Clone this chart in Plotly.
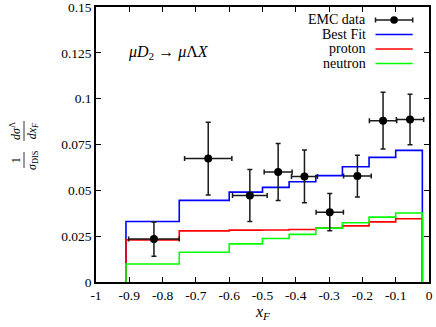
import plotly.graph_objects as go

# ---- data ----
bin_edges = [-0.91, -0.75, -0.60, -0.50, -0.42, -0.34, -0.26, -0.18, -0.10, -0.02]
best_fit = [0.033, 0.0445, 0.049, 0.0516, 0.0547, 0.058, 0.0629, 0.068, 0.0718]
proton = [0.023, 0.0279, 0.0283, 0.0284, 0.0286, 0.0294, 0.0306, 0.0328, 0.0345]
neutron = [0.0098, 0.0162, 0.0208, 0.0237, 0.026, 0.0294, 0.0323, 0.0354, 0.0376]

emc_x = [-0.826, -0.663, -0.538, -0.453, -0.374, -0.298, -0.215, -0.138, -0.057]
emc_xerr = [0.076, 0.071, 0.052, 0.042, 0.039, 0.041, 0.0415, 0.041, 0.041]
emc_y = [0.0234, 0.0673, 0.0472, 0.060, 0.0576, 0.0381, 0.0578, 0.088, 0.0886]
emc_yerr = [0.0093, 0.0198, 0.0142, 0.0156, 0.0144, 0.0102, 0.0114, 0.0155, 0.0138]

x_ticks = [-1, -0.9, -0.8, -0.7, -0.6, -0.5, -0.4, -0.3, -0.2, -0.1, 0]
x_tick_text = ["-1", "-0.9", "-0.8", "-0.7", "-0.6", "-0.5", "-0.4", "-0.3", "-0.2", "-0.1", "0"]
y_ticks = [0, 0.025, 0.05, 0.075, 0.1, 0.125, 0.15]
y_tick_text = ["0", "0.025", "0.05", "0.075", "0.1", "0.125", "0.15"]

legend_labels = ["EMC data", "Best Fit", "proton", "neutron"]
legend_colors = ["#1a1a1a", "#0000ff", "#ff0000", "#00ff00"]

FONT = "Liberation Serif"
W, H = 436, 327
ML, MR, MT, MB = 96, 7, 7, 45
PW, PH = W - ML - MR, H - MT - MB


def px_x(p):
    return (p - ML) / PW


def px_y(p):
    return (H - MB - p) / PH


def step_trace(values, color):
    xs = [bin_edges[0]] + list(bin_edges) + [bin_edges[-1]]
    ys = [0] + list(values) + [values[-1], 0]
    return go.Scatter(x=xs, y=ys, mode="lines", line=dict(color=color, width=1.6, shape="hv"),
                      showlegend=False, hoverinfo="skip")


fig = go.Figure()
fig.add_trace(step_trace(best_fit, legend_colors[1]))
fig.add_trace(step_trace(proton, legend_colors[2]))
fig.add_trace(step_trace(neutron, legend_colors[3]))
fig.add_trace(go.Scatter(
    x=emc_x, y=emc_y, mode="markers",
    marker=dict(color="black", size=8),
    error_x=dict(type="data", array=emc_xerr, color="#1a1a1a", thickness=1.5, width=2.5),
    error_y=dict(type="data", array=emc_yerr, color="#1a1a1a", thickness=1.5, width=2.5),
    showlegend=False,
))

shapes = []
annotations = []

# manual legend (text on left, sample on right)
row_y = [20, 34.5, 49, 63.5]
lx0, lx1 = 375.5, 412.7
for i, (lab, col) in enumerate(zip(legend_labels, legend_colors)):
    yy = px_y(row_y[i])
    annotations.append(dict(x=px_x(367.5), y=yy, xref="paper", yref="paper", text=lab,
                            showarrow=False, xanchor="right", yanchor="middle",
                            font=dict(family=FONT, size=14, color="black")))
    shapes.append(dict(type="line", xref="paper", yref="paper", x0=px_x(lx0), x1=px_x(lx1),
                       y0=yy, y1=yy, line=dict(color=col, width=1.6 if i else 1.5)))
    if i == 0:
        for cx in (lx0, lx1):
            shapes.append(dict(type="line", xref="paper", yref="paper", x0=px_x(cx), x1=px_x(cx),
                               y0=px_y(row_y[i] - 2.5), y1=px_y(row_y[i] + 2.5),
                               line=dict(color=col, width=1.5)))
        cx = (lx0 + lx1) / 2
        r = 3.8
        shapes.append(dict(type="circle", xref="paper", yref="paper",
                           x0=px_x(cx - r), x1=px_x(cx + r), y0=px_y(row_y[i] + r), y1=px_y(row_y[i] - r),
                           fillcolor="black", line=dict(color="black", width=0)))

# process label
annotations.append(dict(x=px_x(126), y=px_y(53), xref="paper", yref="paper",
                        text="<i>μD</i><sub>2</sub> → <i>μ</i>Λ<i>X</i>", showarrow=False,
                        xanchor="left", yanchor="middle",
                        font=dict(family=FONT, size=16, color="black")))

# x-axis title
annotations.append(dict(x=0.5, y=px_y(312), xref="paper", yref="paper",
                        text="<i>x<sub>F</sub></i>", showarrow=False, xanchor="center", yanchor="middle",
                        font=dict(family=FONT, size=16, color="black")))

# y-axis title as two stacked fractions (rotated)
bar_x = px_x(24)
frac_specs = [("1<br><i>σ</i><sub>DIS</sub>", 160, 152, 168),
              ("<i>dσ</i><sup>Λ</sup><br><i>dx<sub>F</sub></i>", 131, 121, 141)]
for txt, yc, yb0, yb1 in frac_specs:
    annotations.append(dict(x=bar_x, y=px_y(yc), xref="paper", yref="paper", text=txt,
                            showarrow=False, textangle=-90, xanchor="center", yanchor="middle",
                            align="center", font=dict(family=FONT, size=12, color="black")))
    shapes.append(dict(type="line", xref="paper", yref="paper", x0=bar_x, x1=bar_x,
                       y0=px_y(yb0), y1=px_y(yb1), line=dict(color="black", width=0.8)))

fig.update_layout(
    width=W, height=H,
    margin=dict(l=ML, r=MR, t=MT, b=MB, autoexpand=False),
    paper_bgcolor="white", plot_bgcolor="white",
    font=dict(family=FONT, size=14, color="black"),
    shapes=shapes, annotations=annotations,
    showlegend=False,
)
fig.update_xaxes(range=[-1, 0], tickvals=x_ticks, ticktext=x_tick_text, automargin=False,
                 ticks="inside", ticklen=5, tickwidth=1, tickcolor="black", ticklabeloverflow="allow",
                 showline=True, linecolor="black", linewidth=1.5, mirror="ticks",
                 showgrid=False, zeroline=False, tickfont=dict(family=FONT, size=13.5))
fig.update_yaxes(range=[0, 0.15], tickvals=y_ticks, ticktext=y_tick_text, automargin=False,
                 ticks="inside", ticklen=5, tickwidth=1, tickcolor="black", ticklabeloverflow="allow",
                 showline=True, linecolor="black", linewidth=1.5, mirror="ticks",
                 showgrid=False, zeroline=False, tickfont=dict(family=FONT, size=13.5))

fig.write_html("out.html", config={"displayModeBar": False},
               post_script="document.body.style.margin='0';document.body.style.overflow='hidden';")
